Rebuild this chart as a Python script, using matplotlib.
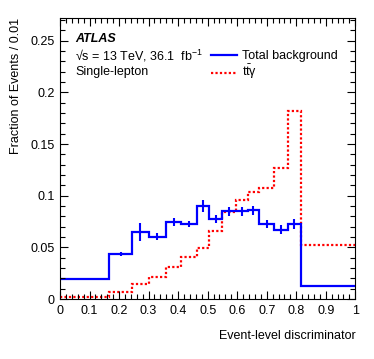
import numpy as np
import matplotlib
matplotlib.use('Agg')
import matplotlib.pyplot as plt
from matplotlib.ticker import MultipleLocator

plt.rcParams['font.family'] = ['Liberation Sans', 'DejaVu Sans']
plt.rcParams['mathtext.fontset'] = 'custom'
plt.rcParams['mathtext.rm'] = 'Liberation Sans'
plt.rcParams['mathtext.it'] = 'Liberation Sans:italic'
plt.rcParams['mathtext.bf'] = 'Liberation Sans:bold'

# bin edges of the discriminator histogram
edges = [0, 0.165, 0.245, 0.30, 0.36, 0.41, 0.465, 0.505, 0.55, 0.595,
         0.635, 0.675, 0.726, 0.772, 0.815, 1.0]

# total background (normalised) and its stat. uncertainty
bkg = [0.019, 0.044, 0.065, 0.0605, 0.0745, 0.0725, 0.090, 0.0775, 0.085,
       0.085, 0.086, 0.0725, 0.067, 0.0725, 0.0125]
bkg_err = [0.0006, 0.002, 0.009, 0.003, 0.004, 0.003, 0.006, 0.004, 0.0043,
           0.0043, 0.0043, 0.004, 0.0045, 0.0045, 0.0006]

# ttgamma signal (normalised)
ttg = [0.0015, 0.007, 0.0145, 0.0213, 0.0313, 0.0404, 0.049, 0.0658, 0.0839,
       0.0958, 0.104, 0.107, 0.127, 0.1816, 0.052]

edges = np.array(edges)
centers = 0.5 * (edges[1:] + edges[:-1])

fig = plt.figure(figsize=(3.74, 3.59), dpi=100)
ax = fig.add_axes([0.1604, 0.167, 0.7896, 0.783])

ax.stairs(ttg, edges, baseline=None, color='#ff0000', lw=1.6,
          linestyle=(0, (1, 1)))
ax.stairs(bkg, edges, baseline=None, color='#0000ff', lw=1.6)
ax.errorbar(centers, bkg, yerr=bkg_err, fmt='none', ecolor='#0000ff',
            elinewidth=1.5, capsize=0)

ax.set_xlim(0, 1)
ax.set_ylim(0, 0.272)
ax.xaxis.set_major_locator(MultipleLocator(0.1))
ax.xaxis.set_minor_locator(MultipleLocator(0.02))
ax.yaxis.set_major_locator(MultipleLocator(0.05))
ax.yaxis.set_minor_locator(MultipleLocator(0.01))
ax.set_xticks(np.arange(0, 1.01, 0.1))
ax.set_xticklabels(['0', '0.1', '0.2', '0.3', '0.4', '0.5', '0.6', '0.7',
                    '0.8', '0.9', '1'])
ax.set_yticks(np.arange(0, 0.26, 0.05))
ax.set_yticklabels(['0', '0.05', '0.1', '0.15', '0.2', '0.25'])
ax.tick_params(which='both', direction='in', top=True, right=True,
               labelsize=9, width=0.8)
ax.tick_params(which='major', length=6, pad=4)
ax.tick_params(which='minor', length=3.5)

ax.set_xlabel('Event-level discriminator', loc='right', fontsize=9,
              labelpad=10)
ax.set_ylabel('Fraction of Events / 0.01', loc='top', fontsize=9,
              labelpad=6)

ax.text(0.051, 0.915, 'ATLAS', transform=ax.transAxes, fontsize=9,
        fontweight='bold', style='italic')
ax.text(0.051, 0.847, '\u221as = 13 TeV, 36.1  fb$^{-1}$',
        transform=ax.transAxes, fontsize=9)
ax.text(0.051, 0.797, 'Single-lepton', transform=ax.transAxes, fontsize=9)

# legend drawn by hand
ax.plot([0.511, 0.599], [0.868, 0.868], transform=ax.transAxes,
        color='#0000ff', lw=1.6)
ax.text(0.616, 0.854, 'Total background', transform=ax.transAxes,
        fontsize=9)
ax.plot([0.511, 0.599], [0.805, 0.805], transform=ax.transAxes,
        color='#ff0000', lw=1.6, linestyle=(0, (1, 1)))
ax.text(0.616, 0.794, r'$\mathrm{t\bar{t}\gamma}$', transform=ax.transAxes,
        fontsize=9)

fig.savefig('out.png', dpi=100)
